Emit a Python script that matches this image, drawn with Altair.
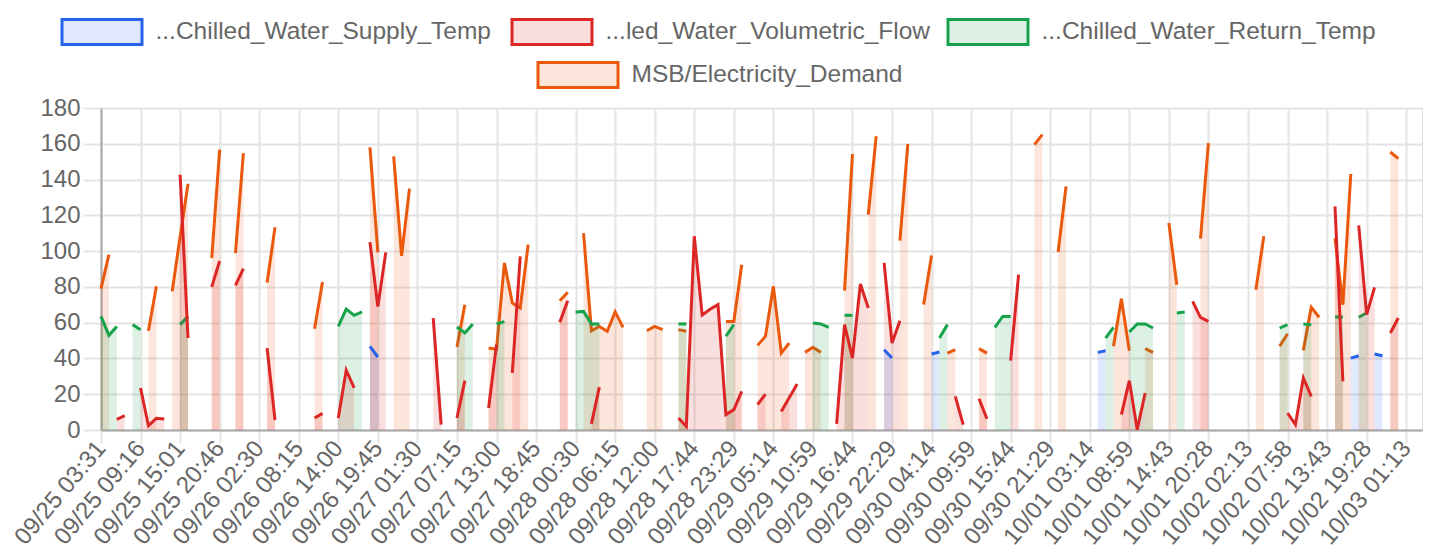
import altair as alt
import pandas as pd

# ---------------- data ----------------
tick_labels = [
    "09/25 03:31", "09/25 09:16", "09/25 15:01", "09/25 20:46",
    "09/26 02:30", "09/26 08:15", "09/26 14:00", "09/26 19:45",
    "09/27 01:30", "09/27 07:15", "09/27 13:00", "09/27 18:45",
    "09/28 00:30", "09/28 06:15", "09/28 12:00", "09/28 17:44",
    "09/28 23:29", "09/29 05:14", "09/29 10:59", "09/29 16:44",
    "09/29 22:29", "09/30 04:14", "09/30 09:59", "09/30 15:44",
    "09/30 21:29", "10/01 03:14", "10/01 08:59", "10/01 14:43",
    "10/01 20:28", "10/02 02:13", "10/02 07:58", "10/02 13:43",
    "10/02 19:28", "10/03 01:13",
]
N_POINTS = 168
LABEL_STEP = 5

series_names = [
    "...Chilled_Water_Supply_Temp",
    "...led_Water_Volumetric_Flow",
    "...Chilled_Water_Return_Temp",
    "MSB/Electricity_Demand",
]

# segments: (start index, consecutive values); gaps are missing readings
supply_segments = [
    (34, [46.8, 40.8]), (99, [44.9, 40.2]), (105, [42.5, 43.6]),
    (126, [43.4, 44.3]), (158, [40.2, 41.5]), (161, [42.5, 41.5]),
]
flow_segments = [
    (2, [6, 8]), (5, [23.5, 2.4, 6.5, 6.1]), (10, [142.7, 51.4]),
    (14, [80, 94.5]), (17, [80.9, 90.2]), (21, [45.8, 5.6]),
    (27, [6.7, 9.3]), (30, [6.7, 33.4, 23.5]), (34, [105, 69, 99.3]),
    (42, [62.6, 3]), (45, [6.7, 27.6]), (49, [12.3, 47.7]),
    (52, [31.9, 97.1]), (58, [60.2, 72.3]), (62, [3.4, 24]),
    (73, [6.7, 2, 108.3, 64.3, 67.5, 70.1, 8.6, 11.4, 21.6]),
    (83, [14.2, 20.1]), (86, [10.4, 18, 25.7]),
    (93, [3.4, 58.9, 40.2, 81.6, 68.2]), (99, [93.4, 48.6, 61.1]),
    (108, [18.8, 3]), (111, [17.5, 6.3]), (115, [38.8, 86.8]),
    (129, [8.6, 27.6, 0.2, 20.7]), (138, [71.9, 63, 60.7]),
    (150, [9.5, 3, 29.1, 18.8]), (156, [125, 27.2]),
    (159, [114.4, 64.5, 79.7]), (163, [54.2, 62.6]),
]
return_segments = [
    (0, [63.5, 52.9, 57.9]), (4, [58.9, 56.1]), (10, [58.9, 63.5]),
    (30, [57.9, 67.6, 64.1, 66]), (45, [57.6, 54.2, 59.3]),
    (50, [59.3, 60.6]), (60, [66, 66.3, 59.3, 59.3]), (73, [59.3, 59.3]),
    (79, [52.4, 58.9]), (90, [59.8, 59.3, 57.4]), (94, [64.1, 64.1]),
    (106, [51.4, 58.9]), (113, [57.4, 63.5, 63.5]), (127, [51.4, 57.4]),
    (130, [54.8, 59.3, 59.3, 57]), (136, [65.4, 66]), (149, [57, 58.9]),
    (152, [59.3, 58.9]), (156, [63.2, 63.2]), (159, [63, 65.4]),
]
demand_segments = [
    (0, [79, 98]), (6, [55.5, 80.3]), (9, [77.5, 108, 137.7]),
    (14, [96.1, 156.7]), (17, [98.9, 154.8]), (21, [82.5, 113.3]),
    (27, [56.6, 82.7]), (34, [158, 99.3]), (37, [153, 97.4, 134.9]),
    (45, [46.4, 70]), (49, [45.8, 45.1, 93.4, 71, 68.2, 103.6]),
    (58, [72.3, 77]), (61, [110.1, 55.5, 57.9, 55.2, 66, 57.4]),
    (69, [55.5, 57.9, 56.1]), (73, [56.1, 55.2]), (79, [60.7, 60.7, 92.4]),
    (83, [47.3, 52.4, 80.3, 43, 48.6]), (89, [43.4, 46.2, 43.4]),
    (94, [77.9, 154.3]), (97, [120.4, 164.2]), (101, [105.8, 159.9]),
    (104, [70.1, 97.6]), (107, [43, 44.9]), (111, [45.5, 43]),
    (118, [159.5, 165.1]), (121, [99.5, 136.2]), (128, [46.8, 73.4, 44.3]),
    (132, [45.5, 43.4]), (135, [115.7, 81.2]), (139, [107, 160.4]),
    (146, [78.4, 108.3]), (149, [46.8, 53.8]), (152, [44.5, 68.6, 63]),
    (156, [107.3, 70, 143.1]), (163, [155.4, 151.7]),
]

line_colors = ["#2563eb", "#dc2626", "#16a34a", "#ea580c"]
fill_colors = [
    "rgba(37,99,235,0.15)", "rgba(220,38,38,0.15)",
    "rgba(22,163,74,0.15)", "rgba(234,88,12,0.15)",
]

# ---------------- chart ----------------
FONT = "Liberation Sans"
GRID = "#e4e4e4"

label_array = "[" + ",".join("'" + t + "'" for t in tick_labels) + "]"
x_axis = alt.Axis(
    values=list(range(0, N_POINTS, LABEL_STEP)),
    labelExpr=label_array + "[round(datum.value / %d)]" % LABEL_STEP,
    labelAngle=310, labelAlign="right", labelBaseline="middle",
    labelFontSize=24, labelColor="#666", labelFont=FONT,
    labelPadding=1, labelOverlap=False, labelFlush=False,
    grid=True, gridColor=GRID, gridWidth=2,
    tickColor=GRID, tickWidth=2, tickSize=13,
    domainColor="#a8a8a8", domainWidth=2, title=None,
)
y_axis = alt.Axis(
    values=list(range(0, 181, 20)),
    labelFontSize=24, labelColor="#666", labelFont=FONT, labelPadding=3,
    grid=True, gridColor=GRID, gridWidth=2,
    tickColor=GRID, tickWidth=2, tickSize=18,
    domainColor="#a8a8a8", domainWidth=2, title=None,
)
X = alt.X("idx:Q", scale=alt.Scale(domain=[0, N_POINTS - 1], nice=False, zero=False), axis=x_axis)
Y = alt.Y("value:Q", scale=alt.Scale(domain=[0, 180], nice=False), axis=y_axis, stack=None)

SYMBOL = "M-1,-0.3125H1V0.3125H-1Z"
legend_pos = [(-40.5, -117.5), (409.5, -117.5), (845.5, -117.5), (435.5, -74.5)]


def frame(name, segs):
    rows = []
    for k, (start, vals) in enumerate(segs):
        for j, v in enumerate(vals):
            rows.append({"idx": start + j, "value": v, "series": name, "seg": k})
    return pd.DataFrame(rows)


all_segments = [supply_segments, flow_segments, return_segments, demand_segments]
layers = []
for i in [3, 2, 1, 0]:
    df = frame(series_names[i], all_segments[i])
    base = alt.Chart(df).encode(x=X, y=Y, detail="seg:N")
    area = base.mark_area(fill=fill_colors[i], fillOpacity=1)
    line = base.mark_line(strokeWidth=3).encode(
        stroke=alt.Stroke(
            "series:N",
            scale=alt.Scale(domain=[series_names[i]], range=[line_colors[i]]),
            legend=alt.Legend(
                orient="none", legendX=legend_pos[i][0], legendY=legend_pos[i][1],
                direction="horizontal", title=None, padding=0,
                symbolType=SYMBOL, symbolSize=6400, symbolStrokeWidth=3,
                symbolFillColor=fill_colors[i], symbolStrokeColor=line_colors[i],
                labelFontSize=24.5, labelColor="#666", labelFont=FONT,
                labelLimit=1000, labelOffset=12,
            ),
        )
    )
    layers += [area, line]

chart = (
    alt.layer(*layers)
    .resolve_scale(stroke="independent")
    .properties(
        width=1321, height=322,
        padding={"left": 101, "top": 108, "right": 18, "bottom": 130},
        autosize=alt.AutoSizeParams(type="none"),
    )
    .configure_view(stroke=None)
    .configure(font=FONT)
)

chart.save("out.html", embed_options={"renderer": "svg", "actions": False})
